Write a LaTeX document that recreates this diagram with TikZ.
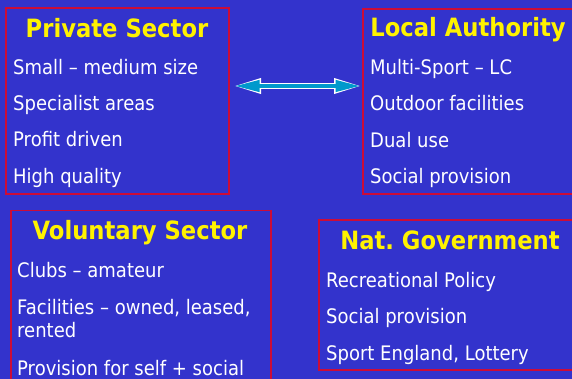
\documentclass[tikz,border=0pt]{standalone}
\usepackage{fontspec}
\setmainfont{DejaVu Sans}[FakeStretch=0.9]
\usepackage{xcolor}
\usetikzlibrary{arrows.meta}

\definecolor{slideblue}{RGB}{51,51,204}
\definecolor{boxred}{RGB}{204,12,56}
\definecolor{arrowcyan}{RGB}{0,153,204}

\begin{document}
\begin{tikzpicture}[x=1pt,y=-1pt,
	box/.style={draw=boxred,line width=2pt,anchor=north west,inner sep=0pt},
	heading/.style={text=yellow,anchor=base,inner sep=0pt,font=\fontsize{25.2}{29}\bfseries\selectfont},
	item/.style={text=white,anchor=base west,inner sep=0pt,font=\fontsize{20}{24}\selectfont}]
	% background of the slide
	\fill[slideblue] (0,0) rectangle (572,379);
	\useasboundingbox (0,0) rectangle (572,379);
	\clip (0,0) rectangle (572,379);

	% the four boxes
	\node[box,minimum width=223pt,minimum height=186pt] (priv) at (5,7) {};
	\node[box,minimum width=240pt,minimum height=185pt] (lauth) at (362,8) {};
	\node[box,line width=1.5pt,minimum width=260pt,minimum height=200pt] (volun) at (10,210) {};
	\node[box,minimum width=270pt,minimum height=150pt] (natgov) at (318,219) {};

	% private sector
	\node[heading] (privT) at (117,38) {Private Sector};
	\node[item] (priv1) at (13,75) {Small -- medium size};
	\node[item] (priv2) at (13,111) {Specialist areas};
	\node[item] (priv3) at (13,147) {Profit driven};
	\node[item] (priv4) at (13,184) {High quality};

	% local authority
	\node[heading] (lauthT) at (468,37) {Local Authority};
	\node[item] (lauth1) at (370,75) {Multi-Sport -- LC};
	\node[item] (lauth2) at (370,111) {Outdoor facilities};
	\node[item] (lauth3) at (370,148) {Dual use};
	\node[item] (lauth4) at (370,184) {Social provision};

	% voluntary sector
	\node[heading] (volunT) at (140,239) {Voluntary Sector};
	\node[item] (volun1) at (17,277) {Clubs -- amateur};
	\node[item] (volun2) at (17,314) {Facilities -- owned, leased,};
	\node[item] (volun2b) at (17,337) {rented};
	\node[item] (volun3) at (17,375) {Provision for self + social};

	% national government
	\node[heading] (natgovT) at (450,249) {Nat.\ Government};
	\node[item] (natgov1) at (326,287) {Recreational Policy};
	\node[item] (natgov2) at (326,323) {Social provision};
	\node[item] (natgov3) at (326,360) {Sport England, Lottery};

	% two way arrow
	\draw[white,line width=6pt,{Triangle[length=28pt,width=14pt]}-{Triangle[length=28pt,width=14pt]},shorten <=3pt]
		([yshift=15pt]priv.east) -- ([yshift=15.5pt]lauth.west);
	\draw[arrowcyan,line width=4pt,{Triangle[length=25pt,width=11pt]}-{Triangle[length=25pt,width=11pt]},shorten <=4.5pt,shorten >=1.5pt]
		([yshift=15pt]priv.east) -- ([yshift=15.5pt]lauth.west);
\end{tikzpicture}
\end{document}
